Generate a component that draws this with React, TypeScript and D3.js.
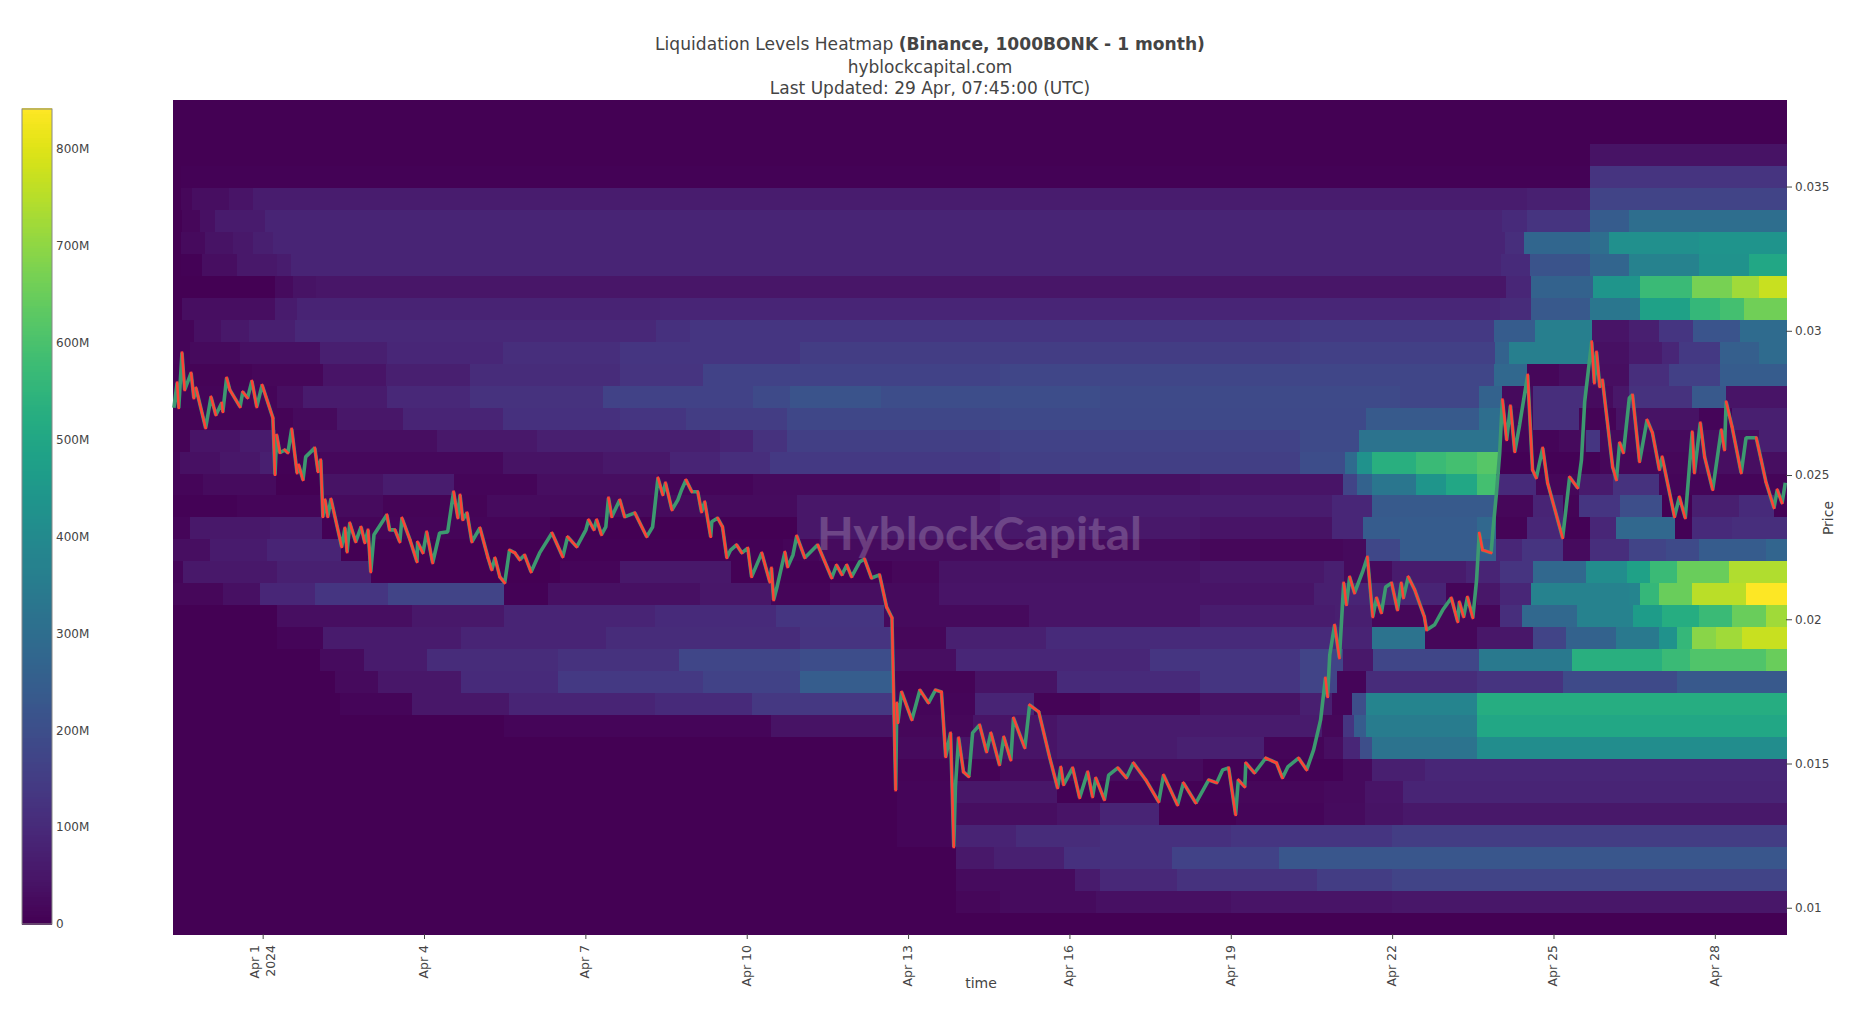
import * as d3 from "d3";
import { useEffect, useRef } from "react";

type Stop = [number, number];

// day of April (1 = Apr 1 00:00 UTC), liquidation value in millions
const startDay = -0.667;
const endDay = 29.323;
const priceMin = 0.00909;
const priceMax = 0.038;
const colorMax = 841;

const priceTicks = [0.01, 0.015, 0.02, 0.025, 0.03, 0.035];
const colorTicks = [0, 100, 200, 300, 400, 500, 600, 700, 800];
const dayTicks = [1, 4, 7, 10, 13, 16, 19, 22, 25, 28];

// lower edge of every price band, bottom to top
const bandEdges = [
  0.00909, 0.00985, 0.01061, 0.01137, 0.01213, 0.0129, 0.01366, 0.01442, 0.01518, 0.01594,
  0.0167, 0.01746, 0.01822, 0.01898, 0.01974, 0.0205, 0.02127, 0.02203, 0.02279, 0.02355,
  0.02431, 0.02507, 0.02583, 0.02659, 0.02735, 0.02811, 0.02887, 0.02963, 0.0304, 0.03116,
  0.03192, 0.03268, 0.03344, 0.0342, 0.03496, 0.03572, 0.03648, 0.03724
];

const bands: Stop[][] = [
  [[-0.67, 0]],
  [[-0.67, 0], [13.9, 15], [14.7, 25], [16.5, 35], [19, 45], [22, 50]],
  [[-0.67, 0], [12.8, 2], [13.9, 25], [16.1, 60], [16.56, 95], [18, 120], [20.6, 150], [22, 170]],
  [[-0.67, 0], [12.8, 3], [13.9, 55], [14.6, 75], [15.9, 115], [17.9, 165], [19.9, 225]],
  [[-0.67, 0], [12.8, 10], [13.9, 80], [15, 105], [16.56, 115], [19, 130], [22, 150]],
  [[-0.67, 0], [12.8, 10], [13.9, 30], [15.76, 45], [16.56, 85], [17.66, 3], [19.1, 10], [20.74, 25], [21.5, 40], [22.2, 55]],
  [[-0.67, 0], [12.8, 10], [13.9, 50], [15.76, 5], [19, 15], [20.74, 20], [21.5, 45], [22.2, 85]],
  [[-0.67, 0], [12.8, 8], [14.7, 25], [18.49, 5], [21.08, 20], [21.62, 70], [22.62, 90]],
  [[-0.67, 0], [12.8, 20], [13.9, 45], [15.76, 60], [18, 75], [19.61, 10], [20.74, 30], [21.08, 90], [21.4, 200], [21.62, 320], [23.57, 410]],
  [[-0.67, 0], [5.48, 12], [10.45, 40], [12.71, 15], [14.2, 45], [15.76, 60], [20.7, 15], [21.08, 130], [21.3, 240], [21.52, 350], [23.58, 500]],
  [[-0.67, 0], [2.43, 12], [3.77, 50], [5.58, 85], [8.29, 100], [10.09, 135], [12.71, 10], [14.24, 85], [15.35, 8], [16.56, 20], [18.42, 40], [20.28, 70], [20.89, 10], [21.25, 200], [21.52, 380], [23.58, 520]],
  [[-0.67, 0], [2.34, 20], [3.14, 50], [4.68, 100], [6.49, 140], [9.18, 165], [10.99, 245], [12.71, 8], [14.24, 40], [15.76, 100], [18.42, 130], [20.28, 170], [20.97, 10], [21.52, 105], [23.57, 125], [25.17, 190], [27.29, 230]],
  [[-0.67, 0], [2.06, 25], [2.88, 60], [4.05, 105], [6.49, 120], [8.74, 175], [10.99, 195], [12.71, 30], [13.9, 90], [17.49, 130], [20.28, 170], [21.08, 55], [21.64, 175], [23.62, 340], [25.34, 530], [27.02, 570], [27.53, 610], [28.95, 650]],
  [[-0.67, 0], [1.26, 10], [2.12, 60], [4.68, 85], [7.38, 105], [10.99, 125], [12.7, 15], [13.7, 75], [15.56, 100], [21.06, 80], [21.62, 320], [22.62, 15], [23.57, 50], [24.61, 170], [25.24, 260], [26.17, 340], [26.97, 430], [27.3, 560], [27.58, 690], [28.03, 720], [28.51, 770]],
  [[-0.67, 0], [1.26, 30], [3.77, 55], [5.48, 85], [8.29, 100], [10.54, 130], [12.55, 20], [15.24, 45], [18.42, 65], [20.93, 70], [21.62, 15], [24, 110], [24.42, 280], [25.43, 370], [26.47, 460], [27.02, 520], [27.71, 570], [28.32, 650], [28.95, 720]],
  [[-0.67, 15], [0.26, 35], [0.95, 90], [1.97, 130], [3.33, 170], [5.48, 5], [6.3, 35], [9.13, 50], [10.45, 10], [11.54, 30], [12.55, 20], [13.57, 45], [20.54, 70], [21.08, 85], [23, 10], [23.57, 50], [24, 90], [24.59, 370], [26.41, 380], [26.6, 560], [26.97, 650], [27.58, 755], [28.58, 838]],
  [[-0.67, 10], [-0.48, 55], [1.26, 75], [3.01, 3], [6.52, 10], [7.64, 55], [9.7, 5], [12.71, 15], [13.57, 40], [18.42, 55], [20.74, 70], [21.11, 20], [21.54, 25], [22, 60], [23.38, 85], [24, 125], [24.61, 280], [25.61, 410], [26.36, 480], [26.8, 570], [27.29, 650], [28.27, 740]],
  [[-0.67, 30], [0.02, 60], [1.08, 85], [2.45, 3], [6.52, 5], [10.67, 10], [11.35, 25], [14.7, 25], [18.42, 15], [21.08, 20], [21.52, 180], [22.14, 240], [23.94, 90], [24.42, 125], [25.18, 25], [25.67, 110], [26.41, 170], [27.1, 190], [27.71, 240], [28.95, 270]],
  [[-0.67, 10], [-0.35, 55], [1.13, 68], [2.1, 5], [2.38, 10], [6.34, 3], [10.93, 50], [14.7, 55], [18.42, 45], [20.28, 40], [20.89, 90], [21.45, 240], [23.58, 280], [23.94, 8], [24.5, 90], [25.18, 5], [25.67, 90], [26.17, 280], [27.25, 5], [27.58, 100], [28.32, 110]],
  [[-0.67, 5], [0.52, 12], [2.1, 25], [3.23, 8], [5.17, 25], [7.45, 20], [8.35, 25], [10.93, 50], [14.7, 65], [20.89, 90], [21.62, 235], [23.94, 15], [24.61, 85], [25.17, 8], [25.48, 130], [26.23, 200], [27.02, 3], [27.58, 70], [28.45, 100], [29.1, 5]],
  [[-0.67, 10], [-0.11, 25], [1.25, 3], [2.1, 40], [3.23, 65], [4.55, 12], [6.1, 30], [8.35, 10], [10.11, 22], [14.7, 35], [18.42, 45], [21.08, 170], [21.35, 260], [21.62, 330], [22.45, 440], [23, 500], [23.57, 590], [23.94, 100], [24.68, 15], [25.48, 60], [26.1, 120], [26.97, 10]],
  [[-0.67, 10], [-0.54, 35], [0.2, 50], [0.95, 70], [1.25, 5], [2.06, 18], [5.47, 40], [7.32, 55], [8.57, 85], [9.5, 110], [10.43, 140], [14.7, 155], [20.28, 195], [21.12, 290], [21.35, 430], [21.62, 530], [22.45, 570], [23, 590], [23.57, 620], [24, 5], [25.86, 15], [27.71, 30]],
  [[-0.67, 8], [-0.35, 45], [0.58, 60], [1.25, 8], [1.88, 30], [4.24, 55], [6.1, 70], [9.5, 85], [10.11, 120], [10.74, 155], [14.7, 165], [20.28, 190], [21.39, 320], [24, 10], [25.11, 20], [25.61, 130], [25.86, 20], [27.71, 30], [28.82, 70]],
  [[-0.67, 8], [1.56, 20], [2.38, 50], [3.61, 85], [5.47, 115], [7.64, 130], [8.88, 150], [10.74, 180], [14.7, 185], [21.52, 235], [23.62, 300], [24.05, 15], [24.61, 110], [25.48, 8], [26.17, 40], [27.71, 10], [28.32, 70]],
  [[-0.67, 12], [1.26, 30], [1.75, 60], [3.31, 95], [4.85, 120], [7.32, 165], [10.11, 190], [10.8, 215], [12.5, 195], [16.56, 190], [22.14, 175], [23.62, 260], [24.05, 20], [24.61, 110], [25.61, 25], [26.1, 50], [26.41, 120], [27.58, 230], [28.21, 45]],
  [[-0.67, 8], [0.8, 15], [2.12, 45], [3.29, 70], [4.85, 105], [7.64, 125], [9.18, 165], [14.7, 175], [23.9, 280], [24.5, 15], [25.11, 30], [26.41, 110], [27.15, 160], [28.09, 240]],
  [[-0.67, 10], [-0.35, 20], [0.58, 35], [2.06, 70], [3.31, 90], [5.47, 110], [7.64, 130], [10.99, 150], [20.28, 160], [23.92, 260], [24.18, 360], [25.69, 35], [26.41, 60], [27.01, 90], [27.34, 140], [28.09, 250], [28.82, 290]],
  [[-0.67, 10], [-0.28, 35], [0.22, 55], [0.74, 70], [1.6, 95], [8.31, 115], [8.94, 130], [20.28, 140], [23.9, 240], [24.65, 360], [25.71, 45], [26.41, 70], [26.97, 130], [27.6, 220], [28.46, 290]],
  [[-0.67, 0], [-0.5, 30], [1.23, 60], [1.64, 80], [8.38, 88], [20.28, 90], [24.01, 105], [24.59, 230], [25.67, 330], [26.6, 480], [27.53, 560], [28.09, 590], [28.55, 660]],
  [[-0.67, 3], [1.23, 25], [1.56, 40], [1.99, 48], [24.11, 90], [24.59, 260], [25.73, 440], [26.6, 570], [27.58, 670], [28.32, 720], [28.82, 770]],
  [[-0.67, 0], [-0.52, 5], [-0.13, 30], [0.52, 55], [1.26, 65], [1.52, 85], [24.03, 100], [24.57, 215], [25.67, 270], [26.41, 370], [27.71, 430], [28.64, 500]],
  [[-0.67, 0], [-0.52, 20], [-0.07, 40], [0.45, 55], [0.82, 70], [1.19, 85], [24.09, 110], [24.46, 275], [25.67, 300], [26.04, 420], [27.71, 435]],
  [[-0.67, 0], [-0.5, 15], [-0.17, 35], [0.11, 60], [1.04, 85], [24.05, 100], [24.5, 125], [25.67, 240], [26.41, 300]],
  [[-0.67, 0], [-0.52, 15], [-0.32, 30], [0.37, 45], [0.82, 65], [24.5, 75], [25.67, 170]],
  [[-0.67, 0], [-0.52, 6], [25.67, 125]],
  [[-0.67, 0], [25.67, 40]],
  [[-0.67, 0]],
  [[-0.67, 0]]
];

// zigzag of the candles, day of April and price
const priceTrace: Stop[] = [
  [-0.65, 0.02733], [-0.59, 0.0282], [-0.56, 0.02733], [-0.5, 0.02924], [-0.45, 0.02795], [-0.33, 0.02854], [-0.28, 0.02767], [-0.24, 0.02802],
  [-0.06, 0.02663], [0.04, 0.02771], [0.13, 0.02708], [0.24, 0.0275], [0.26, 0.02719], [0.33, 0.02837], [0.39, 0.02795], [0.58, 0.02736],
  [0.63, 0.02788], [0.72, 0.02767], [0.8, 0.02826], [0.89, 0.02736], [0.99, 0.02812], [1.19, 0.02698], [1.23, 0.02501], [1.26, 0.02639],
  [1.32, 0.02577], [1.41, 0.02587], [1.47, 0.02577], [1.54, 0.0266], [1.64, 0.02507], [1.67, 0.02535], [1.75, 0.02483], [1.8, 0.02563],
  [1.97, 0.02594], [2.03, 0.02511], [2.08, 0.02553], [2.12, 0.02355], [2.16, 0.02414], [2.21, 0.02355], [2.27, 0.02417], [2.47, 0.02251],
  [2.53, 0.02317], [2.57, 0.02233], [2.62, 0.02334], [2.73, 0.02268], [2.83, 0.0232], [2.9, 0.02265], [2.96, 0.0231], [3.01, 0.02164],
  [3.07, 0.02293], [3.31, 0.02362], [3.36, 0.0231], [3.46, 0.0231], [3.55, 0.02268], [3.59, 0.02351], [3.74, 0.02275], [3.87, 0.02199],
  [3.88, 0.02268], [3.98, 0.0223], [4.05, 0.02303], [4.16, 0.02195], [4.29, 0.02299], [4.44, 0.02303], [4.55, 0.02442], [4.63, 0.02351],
  [4.67, 0.02431], [4.72, 0.02345], [4.8, 0.02369], [4.89, 0.02268], [5.04, 0.02317], [5.19, 0.02213], [5.26, 0.02171], [5.32, 0.02213],
  [5.41, 0.02147], [5.5, 0.02126], [5.59, 0.0224], [5.69, 0.0223], [5.78, 0.02206], [5.87, 0.02223], [5.99, 0.02164], [6.15, 0.0223],
  [6.38, 0.02299], [6.58, 0.02216], [6.67, 0.02286], [6.84, 0.02251], [7.01, 0.0231], [7.06, 0.02345], [7.16, 0.0231], [7.21, 0.02345],
  [7.3, 0.02293], [7.38, 0.0232], [7.43, 0.02421], [7.49, 0.02355], [7.64, 0.02414], [7.73, 0.02355], [7.92, 0.02369], [8.14, 0.02286],
  [8.25, 0.0232], [8.35, 0.0249], [8.44, 0.02431], [8.49, 0.02473], [8.61, 0.02379], [8.72, 0.02414], [8.79, 0.02449], [8.87, 0.02483],
  [8.98, 0.02442], [9.09, 0.02442], [9.16, 0.02372], [9.22, 0.02407], [9.33, 0.02286], [9.35, 0.02338], [9.46, 0.02351], [9.55, 0.0232],
  [9.63, 0.02213], [9.7, 0.0224], [9.81, 0.02258], [9.91, 0.0223], [10.02, 0.02247], [10.09, 0.02147], [10.28, 0.0223], [10.43, 0.02129],
  [10.46, 0.02178], [10.5, 0.02067], [10.56, 0.02109], [10.71, 0.02233], [10.76, 0.02181], [10.86, 0.02223], [10.93, 0.02289], [11.08, 0.02213],
  [11.32, 0.02258], [11.58, 0.02143], [11.67, 0.02188], [11.77, 0.02154], [11.86, 0.02188], [11.95, 0.02147], [12.1, 0.02199], [12.19, 0.02209],
  [12.32, 0.02143], [12.47, 0.02154], [12.6, 0.02043], [12.7, 0.02005], [12.77, 0.01408], [12.79, 0.0171], [12.81, 0.01641], [12.88, 0.01748],
  [13.07, 0.01651], [13.22, 0.01755], [13.38, 0.0171], [13.51, 0.01755], [13.62, 0.01748], [13.7, 0.01523], [13.79, 0.01606], [13.85, 0.01211],
  [13.88, 0.01419], [13.94, 0.01589], [14.03, 0.01471], [14.13, 0.01454], [14.2, 0.01606], [14.33, 0.01634], [14.46, 0.0154], [14.54, 0.01606],
  [14.7, 0.01495], [14.78, 0.01592], [14.91, 0.01512], [14.96, 0.01658], [15.17, 0.01554], [15.26, 0.01703], [15.43, 0.01679], [15.63, 0.01523],
  [15.78, 0.01415], [15.84, 0.01488], [15.89, 0.01426], [16.06, 0.01485], [16.19, 0.01381], [16.34, 0.01471], [16.43, 0.01384], [16.49, 0.0145],
  [16.65, 0.01374], [16.73, 0.0146], [16.9, 0.01485], [17.06, 0.0145], [17.19, 0.01502], [17.42, 0.01443], [17.66, 0.01367], [17.75, 0.0146],
  [18.01, 0.01356], [18.12, 0.01433], [18.35, 0.01363], [18.59, 0.01443], [18.74, 0.01433], [18.85, 0.01478], [18.96, 0.01485], [19.09, 0.01322],
  [19.14, 0.01443], [19.26, 0.01419], [19.28, 0.01502], [19.44, 0.01467], [19.65, 0.01519], [19.85, 0.01502], [19.96, 0.0145], [20.06, 0.01488],
  [20.26, 0.01519], [20.41, 0.01478], [20.54, 0.01547], [20.67, 0.01651], [20.76, 0.01797], [20.8, 0.01731], [20.84, 0.01876], [20.93, 0.0198],
  [21.02, 0.01866], [21.1, 0.02126], [21.15, 0.0205], [21.21, 0.02147], [21.3, 0.02091], [21.45, 0.02164], [21.54, 0.02216], [21.64, 0.02008],
  [21.71, 0.02074], [21.8, 0.02022], [21.88, 0.02112], [21.99, 0.02126], [22.1, 0.02032], [22.17, 0.02126], [22.21, 0.02074], [22.3, 0.02147],
  [22.42, 0.02102], [22.6, 0.02008], [22.64, 0.01963], [22.79, 0.01981], [22.94, 0.02032], [23.1, 0.02074], [23.22, 0.01991], [23.25, 0.0206],
  [23.33, 0.02008], [23.4, 0.02077], [23.5, 0.02005], [23.57, 0.02136], [23.62, 0.02299], [23.68, 0.0224], [23.84, 0.0223], [23.88, 0.0232],
  [23.94, 0.02438], [24, 0.02577], [24.05, 0.02761], [24.13, 0.02622], [24.2, 0.0274], [24.28, 0.0258], [24.37, 0.02674], [24.52, 0.02847],
  [24.61, 0.02518], [24.68, 0.0249], [24.8, 0.02594], [24.89, 0.02473], [25.17, 0.02282], [25.3, 0.02493], [25.45, 0.02455], [25.52, 0.02552],
  [25.58, 0.02754], [25.71, 0.02962], [25.76, 0.02819], [25.8, 0.02927], [25.86, 0.02806], [25.91, 0.0283], [26.1, 0.02528], [26.17, 0.02483],
  [26.23, 0.02612], [26.3, 0.02577], [26.41, 0.02767], [26.47, 0.02778], [26.6, 0.02546], [26.74, 0.02691], [26.84, 0.02646], [26.97, 0.02518],
  [27.02, 0.02563], [27.25, 0.02355], [27.34, 0.02424], [27.45, 0.02351], [27.58, 0.0265], [27.62, 0.02507], [27.73, 0.02681], [27.81, 0.02563],
  [27.96, 0.02449], [28.12, 0.02657], [28.18, 0.02587], [28.21, 0.02754], [28.32, 0.02667], [28.49, 0.02507], [28.58, 0.02629], [28.77, 0.02629],
  [28.86, 0.02553], [28.95, 0.02476], [29.1, 0.02386], [29.16, 0.02449], [29.25, 0.02403], [29.31, 0.02473]
];

const font = '"DejaVu Sans", Verdana, sans-serif';
const dayToDate = (d: number) => new Date(Date.UTC(2024, 3, 1) + (d - 1) * 86400000);

export default function App() {
  const ref = useRef<SVGSVGElement | null>(null);

  useEffect(() => {
    if (!ref.current) return;
    const svg = d3.select(ref.current);
    svg.selectAll("*").remove();

    const plot = { left: 173, right: 1786, top: 100, bottom: 934 };

    const x = d3.scaleUtc()
      .domain([dayToDate(startDay), dayToDate(endDay)])
      .range([plot.left, plot.right]);
    const y = d3.scaleLinear().domain([priceMin, priceMax]).range([plot.bottom, plot.top]);
    const color = d3.scaleSequential(d3.interpolateViridis).domain([0, colorMax]);
    const cbar = d3.scaleLinear().domain([0, colorMax]).range([924, 109]);

    // heatmap bands
    const heat = svg.append("g").attr("shape-rendering", "crispEdges");
    bands.forEach((stops, i) => {
      const top = i + 1 < bandEdges.length ? bandEdges[i + 1] : priceMax;
      stops.forEach((s, j) => {
        const next = j + 1 < stops.length ? stops[j + 1][0] : endDay;
        const x0 = Math.max(plot.left, x(dayToDate(s[0])));
        heat.append("rect")
          .attr("x", x0)
          .attr("width", x(dayToDate(next)) - x0 + 0.5)
          .attr("y", y(top))
          .attr("height", y(bandEdges[i]) - y(top) + 0.5)
          .attr("fill", color(s[1]));
      });
    });

    // watermark
    svg.append("text")
      .attr("x", 817)
      .attr("y", 550)
      .attr("textLength", 325)
      .attr("lengthAdjust", "spacingAndGlyphs")
      .style("font-family", "Lato, Inter, sans-serif")
      .style("font-weight", 700)
      .style("font-size", "45px")
      .style("fill", "#ffffff")
      .style("opacity", 0.2)
      .text("HyblockCapital");

    // candles: a green body under the whole trace, red down moves on top
    const lineFor = d3.line<Stop>()
      .x(d => x(dayToDate(d[0])))
      .y(d => y(d[1]));
    svg.append("path")
      .attr("d", lineFor(priceTrace))
      .attr("fill", "none")
      .attr("stroke", "#3D9970")
      .attr("stroke-width", 3.6)
      .attr("stroke-linejoin", "bevel");
    svg.append("g")
      .selectAll("line")
      .data(d3.pairs(priceTrace).filter(p => p[1][1] < p[0][1]))
      .enter()
      .append("line")
      .attr("x1", p => x(dayToDate(p[0][0])))
      .attr("y1", p => y(p[0][1]))
      .attr("x2", p => x(dayToDate(p[1][0])))
      .attr("y2", p => y(p[1][1]))
      .attr("stroke", "#FF4136")
      .attr("stroke-width", 2.6)
      .attr("stroke-linecap", "square");

    // axes
    const tickStyle = (g: any) => {
      g.select(".domain").remove();
      g.selectAll(".tick line").attr("stroke", "#444");
      g.selectAll(".tick text")
        .style("font-family", font)
        .style("font-size", "12px")
        .style("fill", "#444");
    };

    const yAxis = svg.append("g")
      .attr("transform", `translate(${plot.right},0)`)
      .call(d3.axisRight(y).tickValues(priceTicks).tickFormat(d => String(d)).tickSize(6).tickPadding(3));
    tickStyle(yAxis);

    const xAxis = svg.append("g")
      .attr("transform", `translate(0,${plot.bottom})`)
      .call(d3.axisBottom(x).tickValues(dayTicks.map(dayToDate)).tickFormat(() => "").tickSize(5));
    tickStyle(xAxis);
    xAxis.selectAll(".tick text").remove();
    xAxis.selectAll(".tick")
      .append("text")
      .attr("transform", (d: any, i: number) => `translate(${i === 0 ? -4 : 3.5},11) rotate(-90)`)
      .attr("text-anchor", "end")
      .style("font-family", font)
      .style("font-size", "12.5px")
      .style("fill", "#444")
      .text((d: any) => d3.utcFormat("%b %-d")(d));
    xAxis.select(".tick")
      .append("text")
      .attr("transform", "translate(12,11) rotate(-90)")
      .attr("text-anchor", "end")
      .style("font-family", font)
      .style("font-size", "12.5px")
      .style("fill", "#444")
      .text("2024");

    // colorbar
    const steps = d3.range(0, colorMax, 2);
    svg.append("g")
      .attr("shape-rendering", "crispEdges")
      .selectAll("rect")
      .data(steps)
      .enter()
      .append("rect")
      .attr("x", 22)
      .attr("width", 30)
      .attr("y", d => cbar(d + 2))
      .attr("height", cbar(0) - cbar(2) + 0.5)
      .attr("fill", d => color(d));
    svg.append("rect")
      .attr("x", 22)
      .attr("y", 109)
      .attr("width", 30)
      .attr("height", 815)
      .attr("fill", "none")
      .attr("stroke", "#888")
      .attr("stroke-width", 1);
    const cAxis = svg.append("g")
      .attr("transform", "translate(52,0)")
      .call(d3.axisRight(cbar).tickValues(colorTicks).tickFormat(d => (+d === 0 ? "0" : `${d}M`)).tickSize(0).tickPadding(4));
    tickStyle(cAxis);

    // titles
    const title = svg.append("text")
      .attr("x", 930)
      .attr("y", 50)
      .attr("text-anchor", "middle")
      .style("font-family", font)
      .style("font-size", "17.1px")
      .style("fill", "#444");
    title.append("tspan").text("Liquidation Levels Heatmap ");
    title.append("tspan").style("font-weight", 700).text("(Binance, 1000BONK - 1 month)");
    [["hyblockcapital.com", 72.5], ["Last Updated: 29 Apr, 07:45:00 (UTC)", 94]].forEach(([t, ty]) => {
      svg.append("text")
        .attr("x", 930)
        .attr("y", ty as number)
        .attr("text-anchor", "middle")
        .style("font-family", font)
        .style("font-size", "17px")
        .style("fill", "#444")
        .text(t as string);
    });

    svg.append("text")
      .attr("x", 981)
      .attr("y", 988)
      .attr("text-anchor", "middle")
      .style("font-family", font)
      .style("font-size", "14px")
      .style("fill", "#444")
      .text("time");
    svg.append("text")
      .attr("transform", "translate(1833,518) rotate(-90)")
      .attr("text-anchor", "middle")
      .style("font-family", font)
      .style("font-size", "14px")
      .style("fill", "#444")
      .text("Price");
  }, []);

  return (
    <svg
      ref={ref}
      width={1866}
      height={1014}
      style={{ position: "absolute", left: 0, top: 0, background: "#fff" }}
    />
  );
}
